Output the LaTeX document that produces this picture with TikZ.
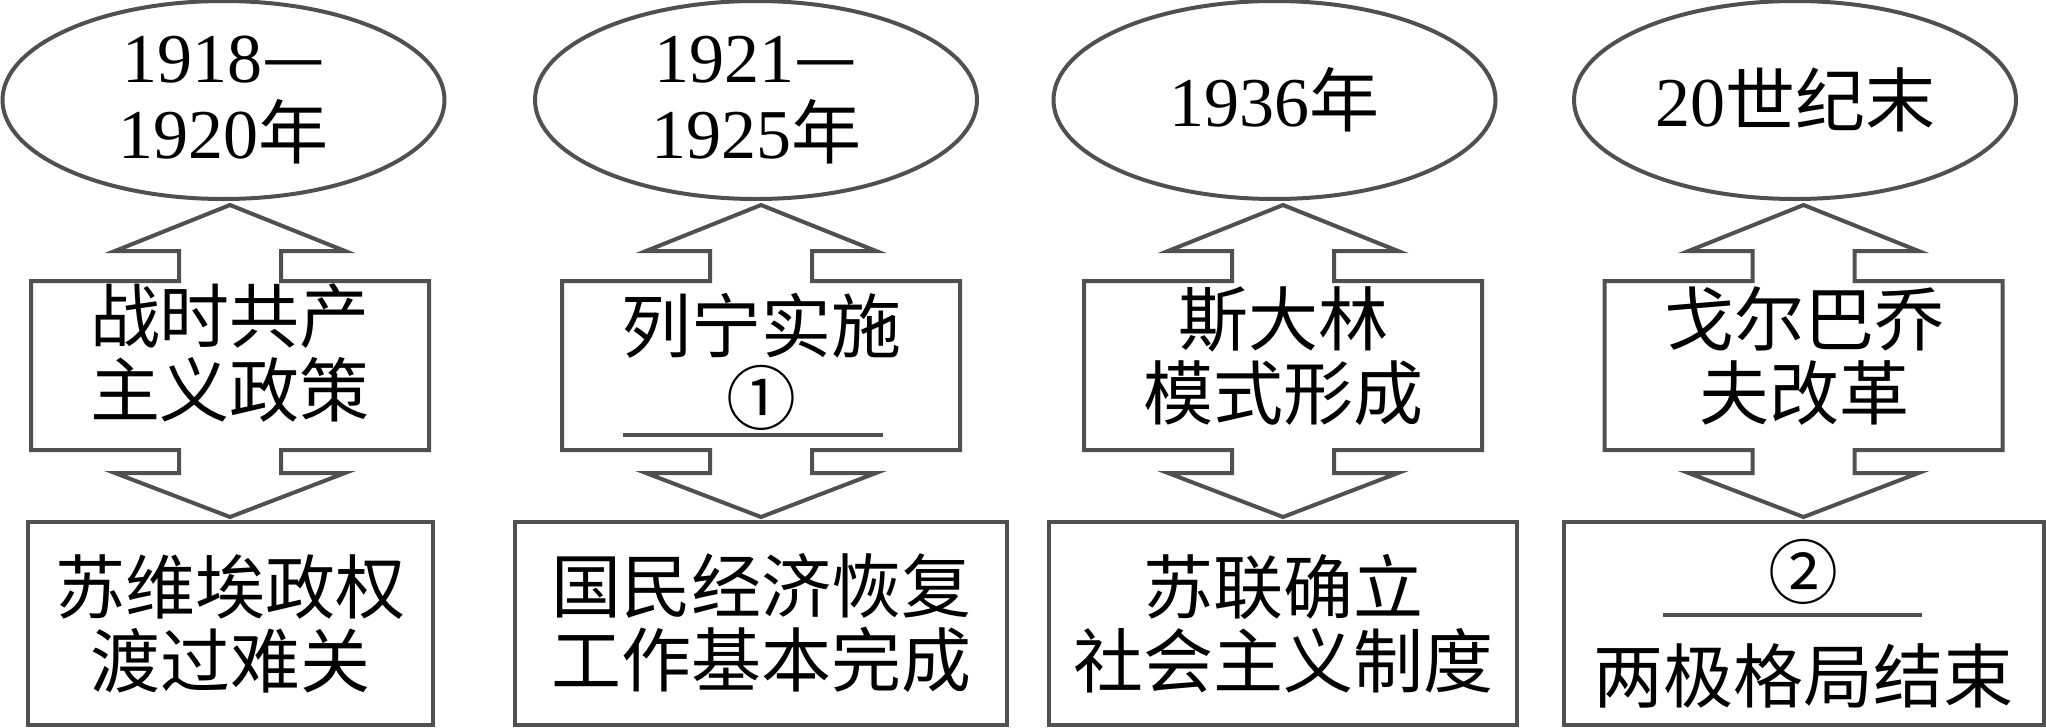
\documentclass[tikz,border=0pt]{standalone}
\usepackage{fontspec}
\setmainfont{Liberation Serif}
\newfontfamily\cjk{Noto Sans CJK SC}
\usepackage{tikz}
\usetikzlibrary{calc,shapes,positioning}
\definecolor{linegray}{RGB}{80,80,80}

\begin{document}
\begin{tikzpicture}[x=0.5pt,y=-0.5pt]
          \tikzstyle{ynode} = [draw=linegray, line width=2pt, ellipse, inner sep=0pt, minimum width=221pt, minimum height=99pt, align=center, font=\fontsize{35}{38}\selectfont]
          \tikzstyle{mnode} = [inner sep=0pt, align=center, font=\cjk\fontsize{35}{37}\selectfont]
          \tikzstyle{bnode} = [draw=linegray, line width=2pt, rectangle, inner sep=0pt, minimum height=101.5pt, align=center, font=\cjk\fontsize{35}{37}\selectfont]
          \tikzstyle{outl} = [draw=linegray, line width=2pt]

          \useasboundingbox (0,0) rectangle (2046,728);

          % years
          \node[ynode] (y1) at (223.5,100) {1918{\cjk —}\\1920{\cjk 年}};
          \node[ynode] (y2) at (756,100) {1921{\cjk —}\\1925{\cjk 年}};
          \node[ynode] (y3) at (1274.5,100) {1936{\cjk 年}};
          \node[ynode] (y4) at (1795,100) {20{\cjk 世纪末}};

          % events
          \node[mnode] (m1) at (230,353) {战时共产\\主义政策};
          \node[mnode] (m2) at (761,361.5) {列宁实施\\[-1pt]①};
          \node[mnode] (m3) at (1283,356.5) {斯大林\\模式形成};
          \node[mnode] (m4) at (1804,355.5) {戈尔巴乔\\夫改革};

          % results
          \node[bnode, minimum width=202.5pt] (b1) at (230,623.5) {苏维埃政权\\渡过难关};
          \node[bnode, minimum width=246pt] (b2) at (761,623.5) {国民经济恢复\\工作基本完成};
          \node[bnode, minimum width=234pt] (b3) at (1283,623.5) {苏联确立\\社会主义制度};
          \node[bnode, minimum width=240pt] (b4) at (1803.5,623.5) {②\\[15pt]两极格局结束};

          % up-down arrow boxes, from the tip above each result
          \foreach \b in {b1,b2,b3,b4}
            \draw[outl] (\b.north) ++(0,-3) -- ++(115,-44) -- ++(-64,0) -- ++(0,-23)
              -- ++(148,0) -- ++(0,-169) -- ++(-148,0) -- ++(0,-30) -- ++(64,0)
              -- ++(-115,-46) -- ++(-115,46) -- ++(64,0) -- ++(0,30) -- ++(-148,0)
              -- ++(0,169) -- ++(148,0) -- ++(0,23) -- ++(-64,0) -- cycle;

          % blanks
          \draw[outl] ($(b2.north)+(-138,-85)$) -- ++(260,0);
          \draw[outl] ($(b4.north)+(-141,95)$) -- ++(259,0);
        \end{tikzpicture}
\end{document}
